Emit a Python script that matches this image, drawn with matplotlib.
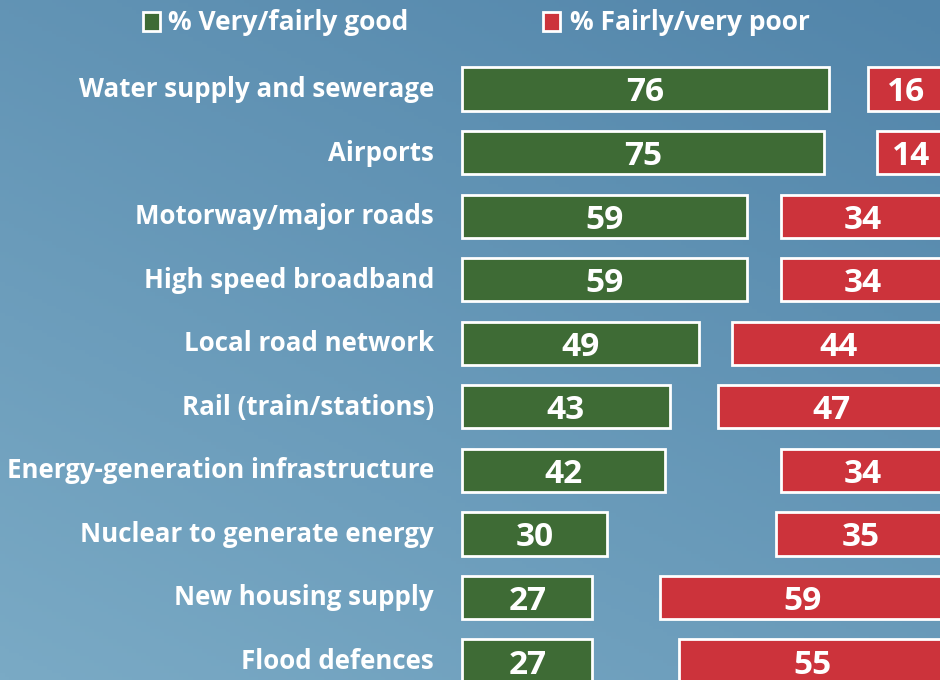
import matplotlib
matplotlib.use("Agg")
import matplotlib.pyplot as plt
import numpy as np
from matplotlib.colors import LinearSegmentedColormap

categories = ["Water supply and sewerage", "Airports", "Motorway/major roads",
              "High speed broadband", "Local road network", "Rail (train/stations)",
              "Energy-generation infrastructure", "Nuclear to generate energy",
              "New housing supply", "Flood defences"]
good = [76, 75, 59, 59, 49, 43, 42, 30, 27, 27]
poor = [16, 14, 34, 34, 44, 47, 34, 35, 59, 55]
legend_labels = ["% Very/fairly good", "% Fairly/very poor"]

GREEN = "#3E6B35"
RED = "#CC333B"
FONT = "Open Sans"

W, H = 940, 680
fig = plt.figure(figsize=(W/100, H/100), dpi=100)

# background gradient
bg = fig.add_axes([0, 0, 1, 1])
xx, yy = np.meshgrid(np.linspace(0, 1, 200), np.linspace(0, 1, 200))
t = np.clip(0.6 * yy + 0.4 * (1 - xx), 0, 1)  # yy=0 at top (origin upper)
cmap = LinearSegmentedColormap.from_list("bg", ["#5285AA", "#7AAAC5"])
bg.imshow(t, cmap=cmap, aspect="auto", extent=[0, 1, 0, 1], origin="upper")
bg.set_axis_off()

# main axes: x 462..945 px -> 0..100 ; y full height
x0, x1 = 462, 945
ax = fig.add_axes([x0/W, 0, (x1-x0)/W, 1])
ax.set_xlim(0, 100)
STEP = 63.56
top = -89/STEP
bottom = (680-89)/STEP
ax.set_ylim(bottom, top)
ax.set_axis_off()
ax.patch.set_alpha(0)

y = np.arange(len(categories))
h = 0.68
ax.barh(y, good, height=h, left=0, color=GREEN, edgecolor="white", linewidth=2, clip_on=False)
ax.barh(y, poor, height=h, left=[100 - p for p in poor], color=RED, edgecolor="white", linewidth=2, clip_on=False)

num_off = 12.5 / STEP
for i, (g, p) in enumerate(zip(good, poor)):
    ax.text(g/2, i + num_off, str(g), ha="center", va="baseline", color="white", fontsize=24,
            fontweight="bold", family=FONT)
    ax.text(100 - p/2, i + num_off, str(p), ha="center", va="baseline", color="white", fontsize=24,
            fontweight="bold", family=FONT)
    fig.text(434/W, 1 - (89 + STEP*i + 8)/H, categories[i], ha="right", va="baseline",
             color="white", fontsize=18.6, fontweight="bold", family=FONT)

# legend
for (sx, tx, col, lab) in [(143, 168, GREEN, legend_labels[0]), (543, 570, RED, legend_labels[1])]:
    fig.patches.append(plt.Rectangle((sx/W, 1 - 31/H), 17/W, 19/H, transform=fig.transFigure,
                                     facecolor=col, edgecolor="white", linewidth=2))
    fig.text(tx/W, 1 - 30/H, lab, ha="left", va="baseline", color="white", fontsize=19,
             fontweight="bold", family=FONT)

fig.savefig("out.png", dpi=100)
